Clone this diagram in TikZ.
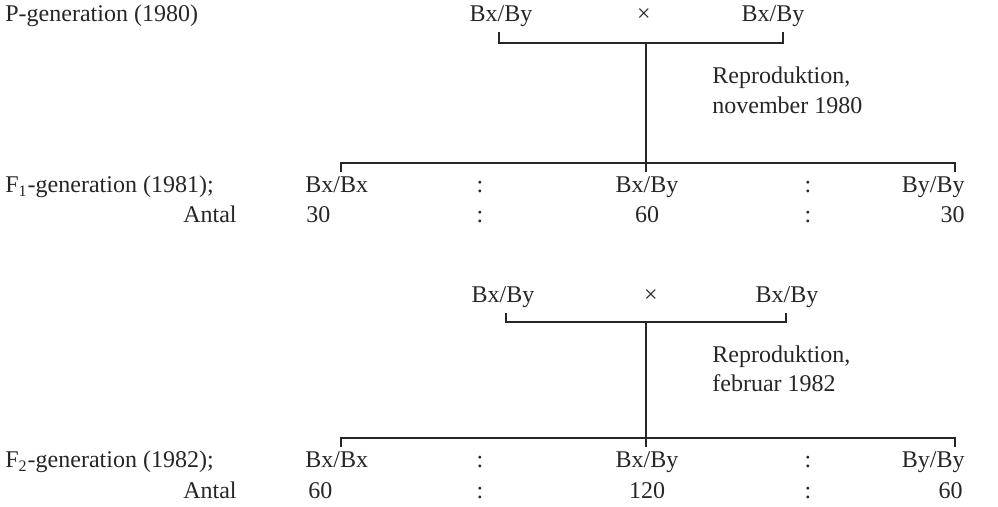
\documentclass[tikz,border=0pt]{standalone}
\usepackage{fontspec}
\setmainfont{Liberation Serif}
\begin{document}
\begin{tikzpicture}[x=0.5pt,y=-0.5pt,
  txt/.style={font=\fontsize{12}{14}\selectfont, inner sep=0pt, text=black!85},
  ln/.style={line width=0.8pt, black!85}]
\useasboundingbox (0,0) rectangle (998,507);
% Row 1
\node[txt, anchor=base west] (pgen) at (5,22) {P-generation (1980)};
\node[txt, anchor=base] (pa) at (501,22) {Bx/By};
\node[txt, anchor=base] (px) at (644,22) {×};
\node[txt, anchor=base] (pb) at (773,22) {Bx/By};
\coordinate (pat) at (499,32);
\coordinate (pbt) at (783,32);
\coordinate (pj) at (646,43);
\draw[ln] (pat) |- (pj) -| (pbt);
\node[txt, anchor=base west] (r1) at (712,84) {Reproduktion,};
\node[txt, anchor=base west] (r1b) at (712,114) {november 1980};
% F1 line
\coordinate (f1m) at (646,163);
\coordinate (f1mb) at (646,172);
\coordinate (f1l) at (341,172);
\coordinate (f1r) at (955,172);
\draw[ln] (pj) -- (f1mb);
\draw[ln] (f1l) |- (f1m) -| (f1r);
% F1 row
\node[txt, anchor=base west] (f1gen) at (5,193) {F\textsubscript{1}-generation (1981);};
\node[txt, anchor=base west] (f1a) at (305,193) {Bx/Bx};
\node[txt, anchor=base] (f1c1) at (480,193) {:};
\node[txt, anchor=base] (f1b) at (647,193) {Bx/By};
\node[txt, anchor=base] (f1c2) at (808,193) {:};
\node[txt, anchor=base east] (f1d) at (965,193) {By/By};
\node[txt, anchor=base east] (an1) at (237,223) {Antal};
\node[txt, anchor=base west] (n1a) at (306,223) {30};
\node[txt, anchor=base] (n1c1) at (480,223) {:};
\node[txt, anchor=base] (n1b) at (647,223) {60};
\node[txt, anchor=base] (n1c2) at (808,223) {:};
\node[txt, anchor=base east] (n1d) at (965,223) {30};
% Cross 2
\node[txt, anchor=base] (qa) at (503,303) {Bx/By};
\node[txt, anchor=base] (qx) at (651,303) {×};
\node[txt, anchor=base] (qb) at (787,303) {Bx/By};
\coordinate (qat) at (506,313);
\coordinate (qbt) at (786,313);
\coordinate (qj) at (646,322);
\draw[ln] (qat) |- (qj) -| (qbt);
\node[txt, anchor=base west] (r2) at (712,363) {Reproduktion,};
\node[txt, anchor=base west] (r2b) at (712,392) {februar 1982};
% F2 line
\coordinate (f2m) at (646,438);
\coordinate (f2mb) at (646,447);
\coordinate (f2l) at (341,447);
\coordinate (f2r) at (955,447);
\draw[ln] (qj) -- (f2mb);
\draw[ln] (f2l) |- (f2m) -| (f2r);
% F2 row
\node[txt, anchor=base west] (f2gen) at (5,468) {F\textsubscript{2}-generation (1982);};
\node[txt, anchor=base west] (f2a) at (305,468) {Bx/Bx};
\node[txt, anchor=base] (f2c1) at (480,468) {:};
\node[txt, anchor=base] (f2b) at (647,468) {Bx/By};
\node[txt, anchor=base] (f2c2) at (808,468) {:};
\node[txt, anchor=base east] (f2d) at (965,468) {By/By};
\node[txt, anchor=base east] (an2) at (237,499) {Antal};
\node[txt, anchor=base west] (n2a) at (308,499) {60};
\node[txt, anchor=base] (n2c1) at (480,499) {:};
\node[txt, anchor=base] (n2b) at (647,499) {120};
\node[txt, anchor=base] (n2c2) at (808,499) {:};
\node[txt, anchor=base east] (n2d) at (963,499) {60};
\end{tikzpicture}
\end{document}
